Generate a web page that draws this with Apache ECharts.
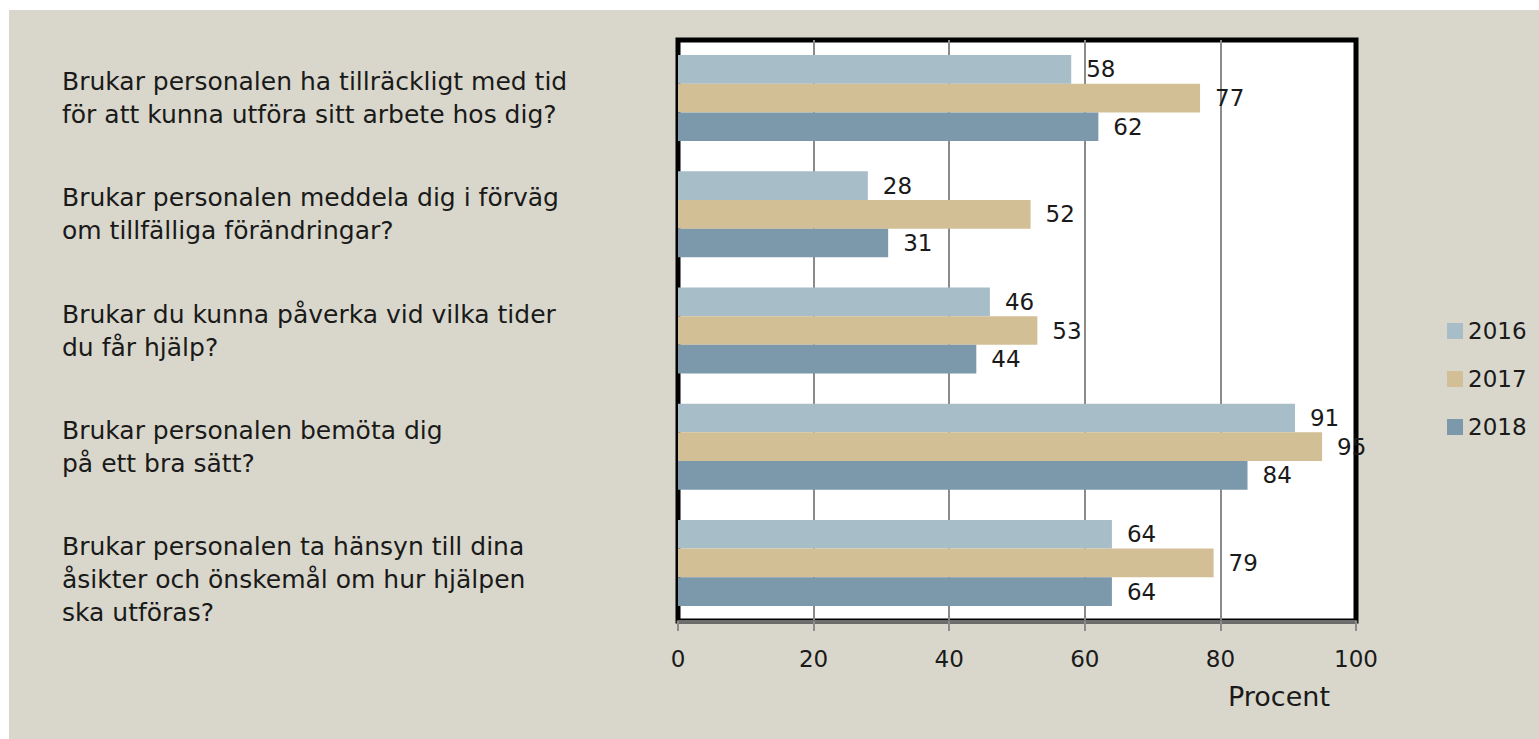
<!DOCTYPE html>
<html>
<head>
<meta charset="utf-8">
<script src="https://cdn.jsdelivr.net/npm/echarts@6/dist/echarts.min.js"></script>
<style>
  html, body { margin: 0; padding: 0; background: #ffffff; }
  #chart { position: absolute; left: 9px; top: 10px; width: 1530px; height: 729px; }
</style>
</head>
<body>
<div id="chart"></div>
<script>
// survey questions (top to bottom)
const questions = [
  'Brukar personalen ha tillräckligt med tid\nför att kunna utföra sitt arbete hos dig?',
  'Brukar personalen meddela dig i förväg\nom tillfälliga förändringar?',
  'Brukar du kunna påverka vid vilka tider\ndu får hjälp?',
  'Brukar personalen bemöta dig\npå ett bra sätt?',
  'Brukar personalen ta hänsyn till dina\nåsikter och önskemål om hur hjälpen\nska utföras?',
]
const years = ['2016', '2017', '2018']
const values2016 = [58, 28, 46, 91, 64]
const values2017 = [77, 52, 53, 95, 79]
const values2018 = [62, 31, 44, 84, 64]
const xTicks = [0, 20, 40, 60, 80, 100]

const colors = ['#a7bdc8', '#d3bf95', '#7c99ab']
const font = 'DejaVu Sans'
const textColor = '#1a1a1a'

const chart = echarts.init(document.getElementById('chart'), null, { renderer: 'svg' })

const seriesValues = [values2016, values2017, values2018]

chart.setOption({
  backgroundColor: '#d9d7cb',
  textStyle: { fontFamily: font },
  legend: {
    orient: 'vertical',
    left: 1433,
    top: 304,
    itemWidth: 16,
    itemHeight: 16,
    itemGap: 24,
    icon: 'rect',
    data: years,
    textStyle: { fontSize: 23, color: textColor, fontFamily: font, lineHeight: 24 },
  },
  grid: {
    left: 669,
    top: 30,
    width: 678,
    height: 581,
    containLabel: false,
    outerBoundsMode: 'none',
    show: true,
    backgroundColor: '#ffffff',
    borderColor: '#000000',
    borderWidth: 5,
  },
  xAxis: {
    type: 'value',
    min: 0,
    max: 100,
    interval: 20,
    name: 'Procent',
    nameLocation: 'middle',
    nameGap: 62,
    nameTextStyle: {
      fontSize: 27,
      color: textColor,
      fontFamily: font,
      align: 'left',
      padding: [0, 0, 0, 211],
    },
    axisLine: { show: true, lineStyle: { color: '#6e6e6e', width: 3 } },
    axisTick: { show: true, length: 10, lineStyle: { color: '#8c8c8c', width: 2 } },
    axisLabel: {
      margin: 26,
      fontSize: 23,
      color: textColor,
      fontFamily: font,
      formatter: v => (xTicks.includes(v) ? String(v) : ''),
    },
    splitLine: {
      show: true,
      showMinLine: false,
      showMaxLine: false,
      lineStyle: { color: '#8a8a8a', width: 2 },
    },
  },
  yAxis: {
    type: 'category',
    inverse: true,
    data: questions,
    axisLine: { show: false },
    axisTick: { show: false },
    axisLabel: {
      align: 'left',
      margin: 616,
      fontSize: 25,
      lineHeight: 33,
      color: textColor,
      fontFamily: font,
      // the three-line label sits a bit lower than its bars in the original
      formatter: (v, i) => (i === questions.length - 1 ? '\n' + v : v),
    },
  },
  series: years.map((y, idx) => ({
    name: y,
    type: 'bar',
    data: seriesValues[idx],
    barGap: '0%',
    barCategoryGap: '26%',
    itemStyle: { color: colors[idx] },
    label: {
      show: true,
      position: 'right',
      distance: 15,
      fontSize: 23,
      color: textColor,
      fontFamily: font,
    },
  })),
})
</script>
</body>
</html>
